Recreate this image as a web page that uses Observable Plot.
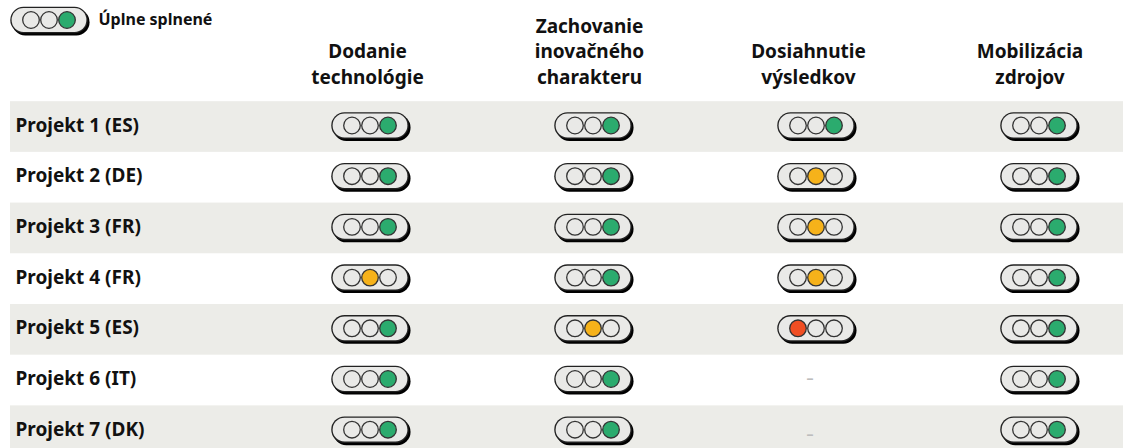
<!DOCTYPE html>
<html><head><meta charset="utf-8">
<script src="https://cdn.jsdelivr.net/npm/d3@7"></script>
<script src="https://cdn.jsdelivr.net/npm/@observablehq/plot@0.6"></script>
<style>html,body{margin:0;padding:0;background:#fff;overflow:hidden}svg{display:block}</style>
</head><body><div id="chart"></div>
<script>
const projects = ["Projekt 1 (ES)","Projekt 2 (DE)","Projekt 3 (FR)","Projekt 4 (FR)","Projekt 5 (ES)","Projekt 6 (IT)","Projekt 7 (DK)"];
const criteria = ["Dodanie\ntechnológie","Zachovanie\ninovačného\ncharakteru","Dosiahnutie\nvýsledkov","Mobilizácia\nzdrojov"];
// lit lamp: 0 red, 1 amber, 2 green, null = not applicable
const delivery   = [2,2,2,1,2,2,2];
const innovation = [2,2,2,2,1,2,2];
const results    = [2,1,1,1,0,null,null];
const resources  = [2,2,2,2,2,2,2];
const legendLabel = "Úplne splnené";
const lampColors = ["#f04e23","#f6b21a","#2bab6e"];
const off = "#e9e9e7";

const series = [delivery, innovation, results, resources];
const cells = series.flatMap((vals,c)=>vals.map((v,r)=>({c,r,v})));
const lit = cells.filter(d=>d.v!==null);
const missing = cells.filter(d=>d.v===null);

const pitchX = 223, pitchY = 50.7, x0 = 369.5, y0 = 125, W = 1123, H = 448;
const slot = 18/pitchX, halfBar = 25.5/pitchX;
const headerShift = [-2.5,-3.5,-7.5,-9];
const legend = {c:(48.5-x0)/pitchX, r:(19.5-y0)/pitchY, v:2};
const pills = [...lit, legend];
const lamps = pills.flatMap(d=>[0,1,2].map(s=>({x:d.c+(s-1)*slot, y:d.r, fill:s===d.v?lampColors[s]:off})));
const pillLink = (o)=>Plot.link(pills,{x1:d=>d.c-halfBar,x2:d=>d.c+halfBar,y1:"r",y2:"r",strokeLinecap:"round",...o});
const font = "'Noto Sans', sans-serif";

const chart = Plot.plot({
  width:W,height:H,margin:0,
  x:{type:"linear",domain:[-x0/pitchX,(W-x0)/pitchX],range:[0,W],axis:null},
  y:{type:"linear",domain:[-y0/pitchY,(H-y0)/pitchY],range:[0,H],axis:null},
  style:{fontFamily:font,background:"#fff"},
  marks:[
    Plot.rect(projects.map((p,i)=>i).filter(i=>i%2===0),{
      x1:()=>(10-x0)/pitchX,x2:()=>(W-x0)/pitchX,
      y1:i=>i-0.47,y2:i=>i+0.53,fill:"#ecece8",clip:true}),
    Plot.text(projects,{x:()=>(15-x0)/pitchX,y:(d,i)=>i,text:d=>d,textAnchor:"start",
      fontSize:19,fontWeight:700,fill:"#111"}),
    Plot.text(criteria,{x:(d,i)=>i+headerShift[i]/pitchX,y:()=>(83-y0)/pitchY,text:d=>d,lineAnchor:"bottom",
      fontSize:19,fontWeight:700,fill:"#111",lineHeight:1.32}),
    Plot.text([legendLabel],{x:()=>(98-x0)/pitchX,y:()=>legend.r,text:d=>d,textAnchor:"start",
      fontSize:16,fontWeight:700,fill:"#111"}),
    pillLink({stroke:"#000",strokeWidth:26.5,dx:1.8,dy:2.2}),
    pillLink({stroke:"#222",strokeWidth:26.5}),
    pillLink({stroke:off,strokeWidth:23.8}),
    Plot.dot(lamps,{x:"x",y:"y",r:8.3,fill:"fill",stroke:"#333",strokeWidth:1.3}),
    Plot.text(missing,{x:"c",y:d=>d.r+(d.r===6?0.1:0),text:()=>"–",dx:-6,fontSize:14,fontWeight:700,fill:"#bdbdbd"})
  ]
});
document.getElementById("chart").append(chart);
</script></body></html>
